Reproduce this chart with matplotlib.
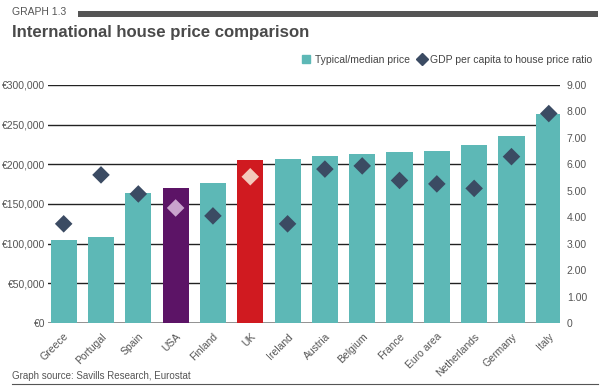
import matplotlib
matplotlib.use("Agg")
import matplotlib.pyplot as plt
from matplotlib.lines import Line2D
from matplotlib.patches import Patch, Rectangle

plt.rcParams['font.family'] = ['Liberation Sans', 'DejaVu Sans']

countries = ["Greece", "Portugal", "Spain", "USA", "Finland", "UK", "Ireland",
             "Austria", "Belgium", "France", "Euro area", "Netherlands", "Germany", "Italy"]
prices = [105000, 108000, 164000, 170000, 176000, 205000, 207000,
          210000, 213000, 216000, 217000, 224000, 236000, 264000]
ratios = [3.75, 5.6, 4.88, 4.35, 4.05, 5.53, 3.75,
          5.82, 5.94, 5.39, 5.26, 5.09, 6.29, 7.92]
left_ticks = [0, 50000, 100000, 150000, 200000, 250000, 300000]
left_labels = ["€0", "€50,000", "€100,000", "€150,000", "€200,000", "€250,000", "€300,000"]
right_ticks = [0, 1, 2, 3, 4, 5, 6, 7, 8, 9]
right_labels = ["0", "1.00", "2.00", "3.00", "4.00", "5.00", "6.00", "7.00", "8.00", "9.00"]

TEAL = "#5db8b6"
PURPLE = "#5c1466"
RED = "#d01a20"
DIAM = "#3b4b63"
bar_colors = [PURPLE if c == "USA" else RED if c == "UK" else TEAL for c in countries]
diam_colors = ["#c9a3cd" if c == "USA" else "#f3c9bb" if c == "UK" else DIAM for c in countries]
TXT = "#555555"

fig = plt.figure(figsize=(6.10, 3.89), dpi=100)
ax = fig.add_axes([0.0787, 0.1697, 0.8393, 0.6118])
x = list(range(len(countries)))
ax.bar(x, prices, width=0.7, color=bar_colors, zorder=2)
ax.set_xlim(-0.42, 13.3)
ax.set_ylim(0, 300000)
for t in left_ticks[1:]:
    ax.axhline(t, color="#222222", lw=1.0, zorder=1)
ax.axhline(0, color="#888888", lw=2.0, zorder=1)
ax.set_yticks(left_ticks)
ax.set_yticklabels(left_labels)
ax.tick_params(axis='y', length=0, pad=2, labelsize=7.5, labelcolor=TXT)
ax.set_xticks(x)
ax.set_xticklabels(countries, rotation=45, ha='right', va='top', rotation_mode='anchor')
ax.tick_params(axis='x', length=0, pad=6, labelsize=7.5, labelcolor=TXT)
for s in ax.spines.values():
    s.set_visible(False)

ax2 = ax.twinx()
ax2.set_ylim(0, 9)
ax2.scatter(x, ratios, marker='D', s=80, c=diam_colors, zorder=3, edgecolors='none')
ax2.set_yticks(right_ticks)
ax2.set_yticklabels(right_labels)
ax2.tick_params(axis='y', length=0, pad=5, labelsize=7.5, labelcolor=TXT)
for s in ax2.spines.values():
    s.set_visible(False)

# Header
fig.text(12/610, 1 - 12/389, "GRAPH 1.3", fontsize=7.5, color="#555555", va='center', ha='left')
fig.add_artist(Rectangle((78/610, 1 - 17/389), (598-78)/610, 6/389,
                         transform=fig.transFigure, color="#555555", lw=0))
fig.text(12/610, 1 - 33/389, "International house price comparison", fontsize=12.1,
         fontweight='bold', color="#4a4a4a", va='center', ha='left')

# Legend
handles = [Patch(color=TEAL, label="Typical/median price"),
           Line2D([], [], marker='D', color=DIAM, lw=0, markersize=6,
                  label="GDP per capita to house price ratio")]
fig.legend(handles=handles, loc='center right', bbox_to_anchor=(602/610, 1 - 60/389),
           ncol=2, frameon=False, fontsize=7.5, handlelength=0.8, handleheight=0.8,
           handletextpad=0.4, columnspacing=0.8, labelcolor="#444444")

# Footer
fig.text(12/610, 1 - 376/389, "Graph source: Savills Research, Eurostat", fontsize=7,
         color="#555555", va='center', ha='left')
fig.add_artist(Line2D([12/610, 598/610], [1 - 384/389, 1 - 384/389],
                      transform=fig.transFigure, color="#555555", lw=0.8))

fig.savefig("out.png", dpi=100)
